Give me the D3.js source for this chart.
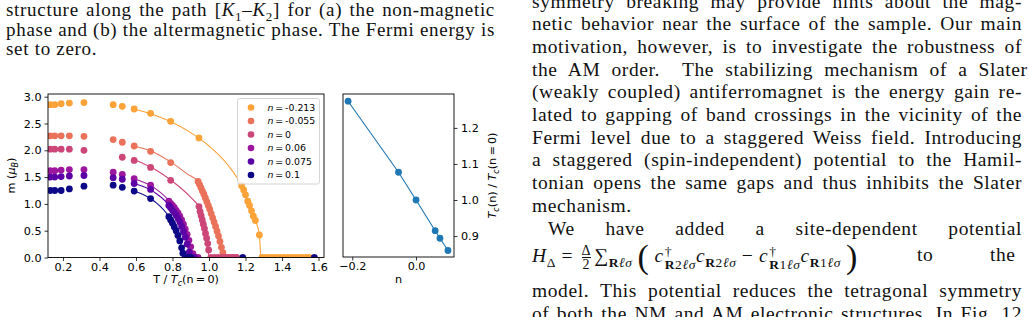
<!DOCTYPE html>
<html>
<head>
<meta charset="utf-8">
<script src="https://cdn.jsdelivr.net/npm/d3@7"></script>
<style>
body { margin: 0; width: 1029px; height: 317px; overflow: hidden; background: #fff; position: relative; }
#chart { position: absolute; left: 0; top: 0; }
.txt { position: absolute; font-family: "Liberation Serif", "Times New Roman", serif; color: #111; white-space: nowrap; letter-spacing: 0.6px; }
.cap { left: 6px; font-size: 19px; line-height: 19.5px; letter-spacing: 0.7px; }
.col { left: 532px; font-size: 19.5px; line-height: 22.7px; }
.frac { display: inline-flex; flex-direction: column; vertical-align: middle; font-size: 14px; line-height: 13px; text-align: center; margin: 0 3px; }
.frac span:first-child { border-bottom: 1px solid #111; }
.ss { display: inline-flex; flex-direction: column; vertical-align: middle; font-size: 13.5px; line-height: 13px; margin-left: 1px; }
.big { font-size: 34px; vertical-align: -6px; margin: 0 5px; }
sub, sup { font-size: 13.5px; }
</style>
</head>
<body>
<svg id="chart" width="1029" height="317"></svg>

<div class="txt cap jl" data-w="489" style="top:0px">structure along the path [<i>K</i><sub style="font-size:13px">1</sub>–<i>K</i><sub style="font-size:13px">2</sub>] for (a) the non-magnetic</div>
<div class="txt cap jl" data-w="489" style="top:19.5px">phase and (b) the altermagnetic phase. The Fermi energy is</div>
<div class="txt cap" style="top:39px">set to zero.</div>

<div id="rightcol"></div>

<script>
// paper text, right column
var colLines = [
  "symmetry breaking may provide hints about the mag-",
  "netic behavior near the surface of the sample. Our main",
  "motivation, however, is to investigate the robustness of",
  "the AM order.&nbsp; The stabilizing mechanism of a Slater",
  "(weakly coupled) antiferromagnet is the energy gain re-",
  "lated to gapping of band crossings in the vicinity of the",
  "Fermi level due to a staggered Weiss field. Introducing",
  "a staggered (spin-independent) potential to the Hamil-",
  "tonian opens the same gaps and thus inhibits the Slater",
  "mechanism.",
  "We have added a site-dependent potential"
];

//left panel: magnetization vs temperature
var seriesNames = ["-0.213", "-0.055", "0", "0.06", "0.075", "0.1"];
var seriesColors = ["#fba238", "#eb725a", "#cc4778", "#9c179e", "#5c01a6", "#0d0887"];

var orangePts = [[0.13,2.85],[0.155,2.85],[0.19,2.87],[0.235,2.88],[0.315,2.89],[0.475,2.85],[0.525,2.82],[0.59,2.77],[0.68,2.69],[0.79,2.54],[0.945,2.23],
  [1.179,1.34],[1.190,1.26],[1.200,1.17],[1.212,1.05],[1.222,0.97],[1.233,0.87],[1.243,0.77],[1.254,0.69],[1.276,0.42],
  [1.29,0],[1.31,0],[1.33,0],[1.35,0],[1.37,0],[1.39,0],[1.41,0],[1.43,0],[1.45,0],[1.47,0],[1.49,0],[1.51,0],[1.53,0],[1.55,0]];
var orangeFit = [[0.59,2.77],[0.7,2.66],[0.8,2.52],[0.9,2.33],[1.0,2.08],[1.1,1.74],[1.18,1.33],[1.22,1.0],[1.25,0.73],[1.276,0.42],[1.285,0],[1.56,0]];

var salmonPts = [[0.13,2.27],[0.155,2.27],[0.19,2.27],[0.235,2.27],[0.315,2.26],[0.475,2.20],[0.525,2.15],[0.59,2.08],[0.68,1.98],[0.79,1.77],
  [0.940,1.42],[0.948,1.36],[0.956,1.30],[0.964,1.24],[0.972,1.18],[0.980,1.11],[0.988,1.04],[0.996,0.97],[1.004,0.90],[1.012,0.82],
  [1.020,0.74],[1.028,0.66],[1.036,0.58],[1.044,0.49],[1.052,0.40],[1.060,0.30],[1.068,0.19],[1.076,0.09],
  [1.09,0],[1.11,0],[1.13,0],[1.15,0]];
var salmonFit = [[0.59,2.08],[0.7,1.96],[0.8,1.76],[0.88,1.56],[0.94,1.42],[1.0,0.94],[1.04,0.54],[1.06,0.3],[1.076,0.09],[1.08,0],[1.17,0]];

var pinkPts = [[0.13,2.02],[0.155,2.02],[0.19,2.02],[0.235,2.02],[0.315,2.0],[0.525,1.87],[0.59,1.81],[0.68,1.68],[0.79,1.44],
  [0.945,0.95],[0.951,0.86],[0.957,0.78],[0.963,0.70],[0.969,0.62],[0.975,0.54],[0.981,0.45],[0.987,0.36],[0.993,0.26],[0.998,0.14],
  [1.01,0],[1.03,0],[1.05,0],[1.07,0],[1.09,0],[1.11,0],[1.13,0],[1.15,0]];
var pinkFit = [[0.59,1.83],[0.7,1.65],[0.8,1.42],[0.9,1.12],[0.945,0.93],[0.975,0.56],[0.993,0.26],[1.0,0],[1.17,0]];

var purplePts = [[0.13,1.62],[0.155,1.62],[0.19,1.63],[0.235,1.64],[0.315,1.64],[0.475,1.59],[0.525,1.55],[0.59,1.47],[0.68,1.35],
  [0.78,1.05],[0.79,1.01],[0.80,0.97],[0.81,0.93],[0.82,0.88],[0.83,0.83],[0.84,0.77],[0.85,0.70],[0.86,0.62],[0.87,0.53],[0.88,0.43],[0.89,0.32],[0.90,0.20],[0.912,0.07],
  [0.925,0],[0.94,0]];
var purpleFit = [[0.59,1.47],[0.7,1.3],[0.8,0.98],[0.86,0.63],[0.9,0.22],[0.917,0],[0.95,0]];

var violetPts = [[0.13,1.50],[0.155,1.50],[0.19,1.51],[0.235,1.52],[0.315,1.53],[0.475,1.49],[0.525,1.46],[0.59,1.38],[0.68,1.27],
  [0.78,0.97],[0.79,0.93],[0.80,0.88],[0.81,0.84],[0.82,0.79],[0.83,0.73],[0.84,0.66],[0.85,0.58],[0.86,0.48],[0.87,0.38],[0.88,0.25],[0.892,0.10],
  [0.905,0],[0.92,0]];
var violetFit = [[0.59,1.38],[0.7,1.22],[0.8,0.89],[0.86,0.5],[0.885,0.2],[0.897,0],[0.93,0]];

var navyPts = [[0.13,1.25],[0.155,1.25],[0.19,1.25],[0.235,1.28],[0.315,1.33],[0.475,1.35],[0.525,1.31],[0.59,1.24],[0.68,1.10],
  [0.78,0.76],[0.79,0.70],[0.80,0.64],[0.81,0.57],[0.82,0.50],[0.83,0.41],[0.84,0.31],[0.85,0.18],[0.857,0.08],
  [0.87,0],[0.885,0],[0.9,0],[1.185,0],[1.577,0]];
var navyFit = [[0.59,1.24],[0.7,1.05],[0.78,0.76],[0.83,0.42],[0.857,0.1],[0.864,0],[0.9,0]];

var allPts = [orangePts, salmonPts, pinkPts, purplePts, violetPts, navyPts];
var allFits = [orangeFit, salmonFit, pinkFit, purpleFit, violetFit, navyFit];

var xTicksL = [0.2, 0.4, 0.6, 0.8, 1.0, 1.2, 1.4, 1.6];
var yTicksL = [0.0, 0.5, 1.0, 1.5, 2.0, 2.5, 3.0];

//right panel: Tc ratio vs filling
var nValues = [-0.213, -0.055, 0, 0.06, 0.075, 0.1];
var tcRatio = [1.274, 1.077, 1.0, 0.915, 0.894, 0.860];
var xTicksR = [-0.2, 0.0];
var yTicksR = [0.9, 1.0, 1.1, 1.2];

var FONT = "'DejaVu Sans', sans-serif";
var AXFS = "11.2px", SUBFS = "8px", LEGFS = "9.4px";

// right column text
(function() {
  var holder = d3.select("#rightcol");
  colLines.forEach(function(t, i) {
    var d = holder.append("div").attr("class", "txt col" + (i == 9 ? "" : " jl"))
      .attr("data-w", i == 10 ? 474 : 490)
      .style("top", (8.3 + 22.7*i - 17.8) + "px")
      .html(t);
    if (i == 10) d.style("left", "548px");
  });
  holder.append("div").attr("class", "txt col").style("top", (262 - 17.8) + "px")
    .html('<i>H</i><sub>Δ</sub> = <span class="frac"><span>Δ</span><span>2</span></span>∑<sub><b>R</b><i>ℓσ</i></sub>' +
      '<span class="big">(</span><i>c</i><span class="ss"><sup>†</sup><span><b>R</b>2<i>ℓσ</i></span></span><i>c</i><sub><b>R</b>2<i>ℓσ</i></sub> − ' +
      '<i>c</i><span class="ss"><sup>†</sup><span><b>R</b>1<i>ℓσ</i></span></span><i>c</i><sub><b>R</b>1<i>ℓσ</i></sub><span class="big">)</span>');
  holder.append("div").attr("class", "txt col").style("top", (262 - 17.8) + "px").style("left", "917px").text("to");
  holder.append("div").attr("class", "txt col").style("top", (262 - 17.8) + "px").style("left", "990px").text("the");
  holder.append("div").attr("class", "txt col jl").attr("data-w", 490).style("top", (297.5 - 17.8) + "px")
    .html("model. This potential reduces the tetragonal symmetry");
  holder.append("div").attr("class", "txt col jl").attr("data-w", 490).style("top", (320.5 - 17.8) + "px")
    .html("of both the NM and AM electronic structures. In Fig. 12");

  // justify each line to its column width by spreading the word gaps
  d3.selectAll(".jl").each(function() {
    var w = +this.getAttribute("data-w");
    var natural = this.getBoundingClientRect().width;
    var gaps = (this.textContent.match(/ /g) || []).length;
    if (gaps > 0) this.style.wordSpacing = ((w - natural) / gaps) + "px";
  });
})();

var svg = d3.select("#chart");

var xL = d3.scaleLinear().domain([0.118, 1.63]).range([48, 324]);
var yL = d3.scaleLinear().domain([0, 3.05]).range([257.5, 94]);
var xR = d3.scaleLinear().domain([-0.229, 0.119]).range([343, 454]);
var yR = d3.scaleLinear().domain([0.842, 1.294]).range([257, 94]);

function styleAxis(g) {
  g.select(".domain").remove();
  g.selectAll(".tick line").attr("stroke", "#000").attr("stroke-width", 0.8);
  g.selectAll(".tick text").attr("fill", "#000").style("font-family", FONT).style("font-size", AXFS);
}

svg.append("defs").append("clipPath").attr("id", "clipL")
  .append("rect").attr("x", 48).attr("y", 94).attr("width", 276).attr("height", 163.5);

// left axes
svg.append("g").attr("transform", "translate(0,257.5)")
  .call(d3.axisBottom(xL).tickValues(xTicksL).tickFormat(d3.format(".1f")).tickSize(3.5).tickPadding(2))
  .call(styleAxis);
svg.append("g").attr("transform", "translate(48,0)")
  .call(d3.axisLeft(yL).tickValues(yTicksL).tickFormat(d3.format(".1f")).tickSize(3.5).tickPadding(3))
  .call(styleAxis);

var plotL = svg.append("g").attr("clip-path", "url(#clipL)");
var lineL = d3.line().x(function(d){ return xL(d[0]); }).y(function(d){ return yL(d[1]); }).curve(d3.curveMonotoneX);

allPts.forEach(function(pts, i) {
  var g = plotL.append("g");
  g.append("path").attr("d", lineL(allFits[i])).attr("fill", "none")
    .attr("stroke", seriesColors[i]).attr("stroke-width", 1.1);
  g.selectAll("circle").data(pts).enter().append("circle")
    .attr("cx", function(d){ return xL(d[0]); })
    .attr("cy", function(d){ return yL(d[1]); })
    .attr("r", 3.4).attr("fill", seriesColors[i]);
});

svg.append("rect").attr("x", 48).attr("y", 94).attr("width", 276).attr("height", 163.5)
  .attr("fill", "none").attr("stroke", "#000").attr("stroke-width", 0.9);

// legend
var legend = svg.append("g");
legend.append("rect").attr("x", 237.5).attr("y", 98.5).attr("width", 82).attr("height", 85.5)
  .attr("rx", 2).attr("fill", "#fff").attr("fill-opacity", 0.8).attr("stroke", "#d0d0d0").attr("stroke-width", 0.9);
seriesNames.forEach(function(name, i) {
  var cy = 107.5 + i*13.5;
  legend.append("circle").attr("cx", 251).attr("cy", cy).attr("r", 3.3).attr("fill", seriesColors[i]);
  var t = legend.append("text").attr("x", 267.5).attr("y", cy + 3.4)
    .style("font-family", FONT).style("font-size", LEGFS);
  t.append("tspan").attr("font-style", "italic").text("n");
  t.append("tspan").text("\u2009=\u2009" + name);
});

// left labels
var xlab = svg.append("text").attr("x", 186).attr("y", 283).attr("text-anchor", "middle")
  .style("font-family", FONT).style("font-size", AXFS);
xlab.append("tspan").text("T / ");
xlab.append("tspan").attr("font-style", "italic").text("T");
xlab.append("tspan").attr("font-style", "italic").attr("font-size", SUBFS).attr("dy", 2.5).text("c");
xlab.append("tspan").attr("dy", -2.5).text("(n\u2009=\u20090)");

var ylab = svg.append("text").attr("transform", "translate(15,175.5) rotate(-90)").attr("text-anchor", "middle")
  .style("font-family", FONT).style("font-size", AXFS);
ylab.append("tspan").text("m (");
ylab.append("tspan").attr("font-style", "italic").text("μ");
ylab.append("tspan").attr("font-style", "italic").attr("font-size", SUBFS).attr("dy", 2.5).text("B");
ylab.append("tspan").attr("dy", -2.5).text(")");

// right axes
svg.append("g").attr("transform", "translate(0,257)")
  .call(d3.axisBottom(xR).tickValues(xTicksR).tickFormat(d3.format(".1f")).tickSize(3.5).tickPadding(2))
  .call(styleAxis);
svg.append("g").attr("transform", "translate(454,0)")
  .call(d3.axisRight(yR).tickValues(yTicksR).tickFormat(d3.format(".1f")).tickSize(3.5).tickPadding(3.5))
  .call(styleAxis);

var tcData = nValues.map(function(n, i){ return [n, tcRatio[i]]; });
var lineR = d3.line().x(function(d){ return xR(d[0]); }).y(function(d){ return yR(d[1]); });
svg.append("path").attr("d", lineR(tcData)).attr("fill", "none").attr("stroke", "#1f77b4").attr("stroke-width", 1.1);
svg.append("g").selectAll("circle").data(tcData).enter().append("circle")
  .attr("cx", function(d){ return xR(d[0]); })
  .attr("cy", function(d){ return yR(d[1]); })
  .attr("r", 3.4).attr("fill", "#1f77b4");

svg.append("rect").attr("x", 343).attr("y", 94).attr("width", 111).attr("height", 163)
  .attr("fill", "none").attr("stroke", "#000").attr("stroke-width", 0.9);

svg.append("text").attr("x", 398.5).attr("y", 283).attr("text-anchor", "middle")
  .style("font-family", FONT).style("font-size", AXFS).text("n");

var ylabR = svg.append("text").attr("transform", "translate(496,175.5) rotate(-90)").attr("text-anchor", "middle")
  .style("font-family", FONT).style("font-size", AXFS);
ylabR.append("tspan").attr("font-style", "italic").text("T");
ylabR.append("tspan").attr("font-style", "italic").attr("font-size", SUBFS).attr("dy", 2.5).text("c");
ylabR.append("tspan").attr("dy", -2.5).text("(n) / ");
ylabR.append("tspan").attr("font-style", "italic").text("T");
ylabR.append("tspan").attr("font-style", "italic").attr("font-size", SUBFS).attr("dy", 2.5).text("c");
ylabR.append("tspan").attr("dy", -2.5).text("(n\u2009=\u20090)");
</script>
</body>
</html>
